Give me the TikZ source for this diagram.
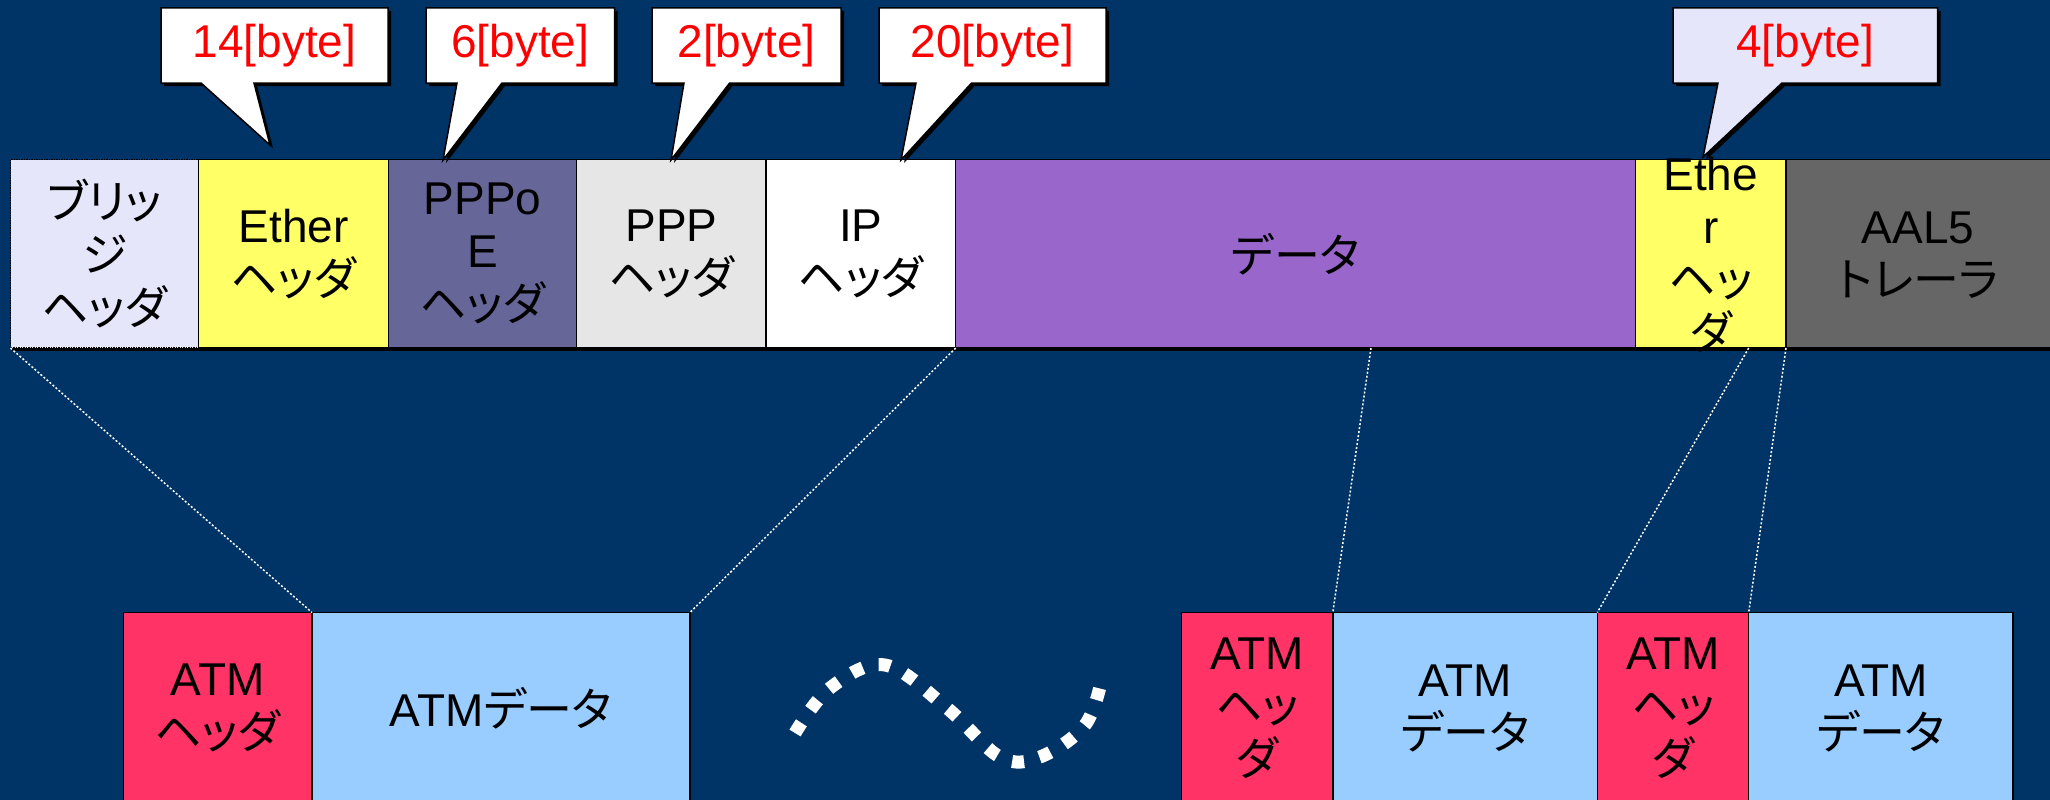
\documentclass[tikz,border=0pt]{standalone}
\usepackage{fontspec}
\setmainfont{Liberation Sans}
\newfontfamily\jp[RawFeature=+palt]{Noto Sans CJK JP}
\usetikzlibrary{shadows}
\definecolor{bg}{HTML}{003366}
\definecolor{bridge}{HTML}{E6E6FA}
\definecolor{ethc}{HTML}{FFFF66}
\definecolor{pppoec}{HTML}{666699}
\definecolor{pppc}{HTML}{E6E6E6}
\definecolor{datac}{HTML}{9966CC}
\definecolor{aalc}{HTML}{666666}
\definecolor{atmh}{HTML}{FF3366}
\definecolor{atmd}{HTML}{99CCFF}
\definecolor{callred}{HTML}{FF0000}
\begin{document}
\begin{tikzpicture}[x=1pt,y=-1pt,
  box/.style={draw=black, line width=1.5pt, inner sep=0pt, outer sep=0pt},
  lbl/.style={inner sep=0pt, align=center, text=black, font=\fontsize{46}{53}\selectfont},
  callbox/.style={draw=black, line width=1.5pt, drop shadow={shadow xshift=3pt, shadow yshift=-3pt, fill=black, opacity=1}},
  calltext/.style={inner sep=0pt, text=callred, font=\fontsize{46}{53}\selectfont},
  link/.style={draw=white, line width=1.5pt, dash pattern=on 2pt off 2pt},
  wave/.style={draw=white, line width=13pt, dash pattern=on 12pt off 16pt}
]
\useasboundingbox (0,0) rectangle (2050,800);
\clip (0,0) rectangle (2050,800);
\fill[bg] (0,0) rectangle (2050,800);

% shadow under top row
\fill[black] (12,162) rectangle (2053,351);

% top row
\node[box, fill=bridge, densely dotted, minimum width=188.2pt, minimum height=188.5pt] (br) at (104.6,253.75) {};
\node[box, fill=ethc, minimum width=189.6pt, minimum height=188.5pt] (eth) at (293.5,253.75) {};
\node[box, fill=pppoec, minimum width=188.3pt, minimum height=188.5pt] (pppoe) at (482.45,253.75) {};
\node[box, fill=pppc, minimum width=189.5pt, minimum height=188.5pt] (ppp) at (671.35,253.75) {};
\node[box, fill=white, minimum width=189.6pt, minimum height=188.5pt] (ip) at (860.9,253.75) {};
\node[box, fill=datac, minimum width=679.9pt, minimum height=188.5pt] (data) at (1295.65,253.75) {};
\node[box, fill=ethc, minimum width=150.4pt, minimum height=188.5pt] (eth2) at (1710.8,253.75) {};
\node[box, fill=aalc, minimum width=270pt, minimum height=188.5pt] (aal) at (1921,253.75) {};

\node[lbl] (br-t) at (br) {{\jp ブリッ}\\{\jp ジ}\\{\jp ヘッダ}};
\node[lbl] (eth-t) at (eth) {Ether\\{\jp ヘッダ}};
\node[lbl] (pppoe-t) at (pppoe) {PPPo\\E\\{\jp ヘッダ}};
\node[lbl] (ppp-t) at (ppp) {PPP\\{\jp ヘッダ}};
\node[lbl] (ip-t) at (ip) {IP\\{\jp ヘッダ}};
\node[lbl] (data-t) at (data) {{\jp データ}};
\node[lbl] (eth2-t) at (1710.8,255) {Ethe\\r\\{\jp ヘッ}\\{\jp ダ}};
\node[lbl] (aal-t) at (1918,255.5) {AAL5\\{\jp トレーラ}};

% bottom row
\node[box, fill=atmh, minimum width=188.5pt, minimum height=191.5pt] (ah1) at (217.75,708.25) {};
\node[box, fill=atmd, minimum width=378pt, minimum height=191.5pt] (ad1) at (501,708.25) {};
\node[box, fill=atmh, minimum width=151.3pt, minimum height=191.5pt] (ah2) at (1257.15,708.25) {};
\node[box, fill=atmd, minimum width=264.5pt, minimum height=191.5pt] (ad2) at (1465.05,708.25) {};
\node[box, fill=atmh, minimum width=151.4pt, minimum height=191.5pt] (ah3) at (1673,708.25) {};
\node[box, fill=atmd, minimum width=264.3pt, minimum height=191.5pt] (ad3) at (1880.85,708.25) {};

\node[lbl] (ah1-t) at (ah1) {ATM\\{\jp ヘッダ}};
\node[lbl] (ad1-t) at (ad1) {ATM{\jp データ}};
\node[lbl] (ah2-t) at (ah2) {ATM\\{\jp ヘッ}\\{\jp ダ}};
\node[lbl] (ad2-t) at (ad2) {ATM\\{\jp データ}};
\node[lbl] (ah3-t) at (ah3) {ATM\\{\jp ヘッ}\\{\jp ダ}};
\node[lbl] (ad3-t) at (ad3) {ATM\\{\jp データ}};

% connectors
\coordinate (dsplit) at (1371,348);
\coordinate (esplit) at (1748.7,348);
\draw[link] (br.south west) -- (ah1.north east);
\draw[link] (ip.south east) -- (ad1.north east);
\draw[link] (dsplit) -- (ah2.north east);
\draw[link] (esplit) -- (ad2.north east);
\draw[link] (eth2.south east) -- (ah3.north east);

% wave
\draw[wave] plot[smooth, tension=0.6] coordinates {(795,733) (830,688) (885,665) (947,708) (1000,757) (1040,757) (1085,725) (1102,678)};

% callouts
\filldraw[callbox, fill=white] (161,8) -- (388,8) -- (388,83) -- (254,83) -- (270,145) -- (201,83) -- (161,83) -- cycle;
\filldraw[callbox, fill=white] (426,8) -- (614.5,8) -- (614.5,83) -- (502,83) -- (443,160) -- (457,83) -- (426,83) -- cycle;
\filldraw[callbox, fill=white] (652,8) -- (841,8) -- (841,83) -- (729.6,83) -- (671,160) -- (684,83) -- (652,83) -- cycle;
\filldraw[callbox, fill=white] (879,8) -- (1106,8) -- (1106,83) -- (971.6,83) -- (901,160) -- (916,83) -- (879,83) -- cycle;
\filldraw[callbox, fill=bridge] (1673,8) -- (1937.5,8) -- (1937.5,83) -- (1782,83) -- (1703,157) -- (1718,83) -- (1673,83) -- cycle;

\node[calltext] (c1) at (274.5,46) {14[byte]};
\node[calltext] (c2) at (520.25,46) {6[byte]};
\node[calltext] (c3) at (746.5,46) {2[byte]};
\node[calltext] (c4) at (992.5,46) {20[byte]};
\node[calltext] (c5) at (1805.25,46) {4[byte]};
\end{tikzpicture}
\end{document}
